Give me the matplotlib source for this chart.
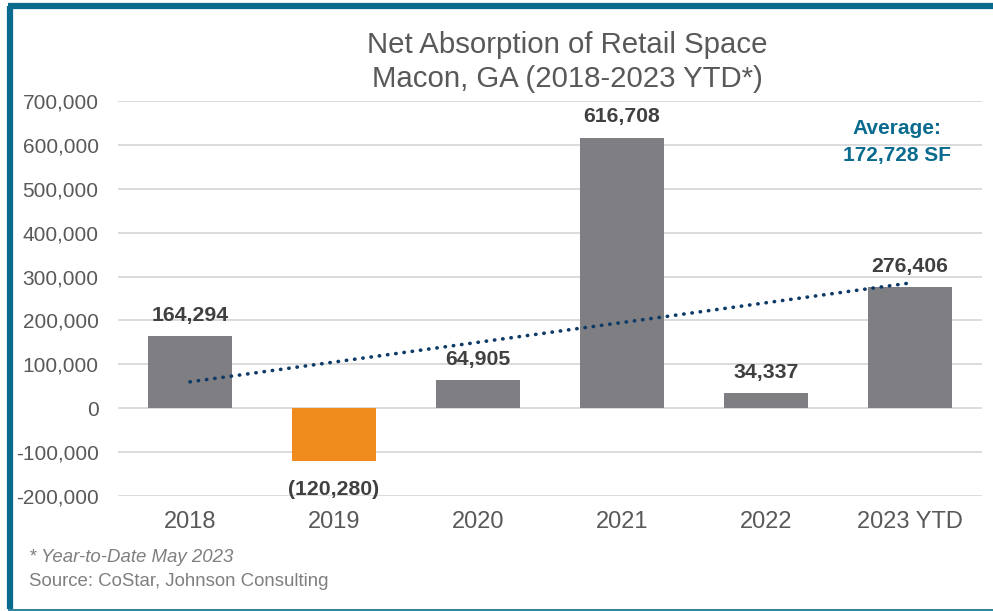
import numpy as np
import matplotlib
matplotlib.use("Agg")
import matplotlib.pyplot as plt
from matplotlib.lines import Line2D

plt.rcParams["font.family"] = ["Liberation Sans", "DejaVu Sans"]

categories = ["2018", "2019", "2020", "2021", "2022", "2023 YTD"]
values = [164294, -120280, 64905, 616708, 34337, 276406]
value_labels = ["164,294", "(120,280)", "64,905", "616,708", "34,337", "276,406"]
y_ticks = [-200000, -100000, 0, 100000, 200000, 300000, 400000, 500000, 600000, 700000]

GREY_BAR = "#7f7e83"
ORANGE = "#f08c1e"
TEAL = "#0b6b8f"
NAVY = "#0d3b66"
TEXT = "#595959"
LABEL = "#404040"

W, H = 993, 611
fig = plt.figure(figsize=(W / 100, H / 100), dpi=100)
ax = fig.add_axes([118 / W, 1 - 496 / H, (982 - 118) / W, (496 - 101) / H])

x = np.arange(len(categories))
colors = [ORANGE if v < 0 else GREY_BAR for v in values]
ax.bar(x, values, width=0.59, color=colors, zorder=2)

# linear trendline through the yearly values
coef = np.polyfit(x, values, 1)
trend = np.polyval(coef, x)
ax.plot(x, trend, color=NAVY, lw=2.6, linestyle=(0, (0.1, 2.2)),
        dash_capstyle="round", zorder=3)

ax.set_xlim(-0.5, len(categories) - 0.5)
ax.set_ylim(-200000, 700000)
ax.set_yticks(y_ticks)
ax.set_yticklabels([f"{t:,.0f}" for t in y_ticks], fontsize=15, color=TEXT)
ax.set_xticks(x)
ax.set_xticklabels(categories, fontsize=17, color=TEXT)
ax.tick_params(axis="both", length=0)
ax.tick_params(axis="y", pad=14)
ax.tick_params(axis="x", pad=11)
for s in ax.spines.values():
    s.set_visible(False)
ax.grid(axis="y", color="#d9d9d9", lw=1.3, zorder=0)
ax.set_axisbelow(True)

for xi, v, lab in zip(x, values, value_labels):
    if v >= 0:
        ax.annotate(lab, (xi, v), xytext=(0, 8), textcoords="offset points",
                    ha="center", va="bottom", fontsize=15.3, fontweight="bold", color=LABEL)
    else:
        ax.annotate(lab, (xi, v), xytext=(0, -14), textcoords="offset points",
                    ha="center", va="top", fontsize=15.3, fontweight="bold", color=LABEL)

avg = np.mean(values)
fig.text(897 / W, 1 - 128 / H, "Average:", ha="center", va="center",
         fontsize=15, fontweight="bold", color=TEAL)
fig.text(897 / W, 1 - 155 / H, f"{avg:,.0f} SF", ha="center", va="center",
         fontsize=15, fontweight="bold", color=TEAL)

fig.text(567 / W, 1 - 45 / H, "Net Absorption of Retail Space", ha="center", va="center",
         fontsize=21.2, color=TEXT)
fig.text(567 / W, 1 - 79 / H, "Macon, GA (2018-2023 YTD*)", ha="center", va="center",
         fontsize=21.2, color=TEXT)

fig.text(29 / W, 1 - 557 / H, "* Year-to-Date May 2023", ha="left", va="center",
         fontsize=13.4, style="italic", color="#7f7f7f")
fig.text(29 / W, 1 - 581 / H, "Source: CoStar, Johnson Consulting", ha="left", va="center",
         fontsize=13.4, color="#7f7f7f")

# outer frame: heavy left and top rules, thin bottom rule
fig.add_artist(Line2D([10 / W, 10 / W], [1 - 609 / H, 1 - 6 / H], transform=fig.transFigure,
                      color=TEAL, lw=4.5, solid_capstyle="butt"))
fig.add_artist(Line2D([7.8 / W, 1], [1 - 6 / H, 1 - 6 / H], transform=fig.transFigure,
                      color=TEAL, lw=4.5, solid_capstyle="butt"))
fig.add_artist(Line2D([7.8 / W, 1], [1 - 609.5 / H, 1 - 609.5 / H], transform=fig.transFigure,
                      color=TEAL, lw=1.2, solid_capstyle="butt"))

fig.savefig("out.png", dpi=100, facecolor="white")
